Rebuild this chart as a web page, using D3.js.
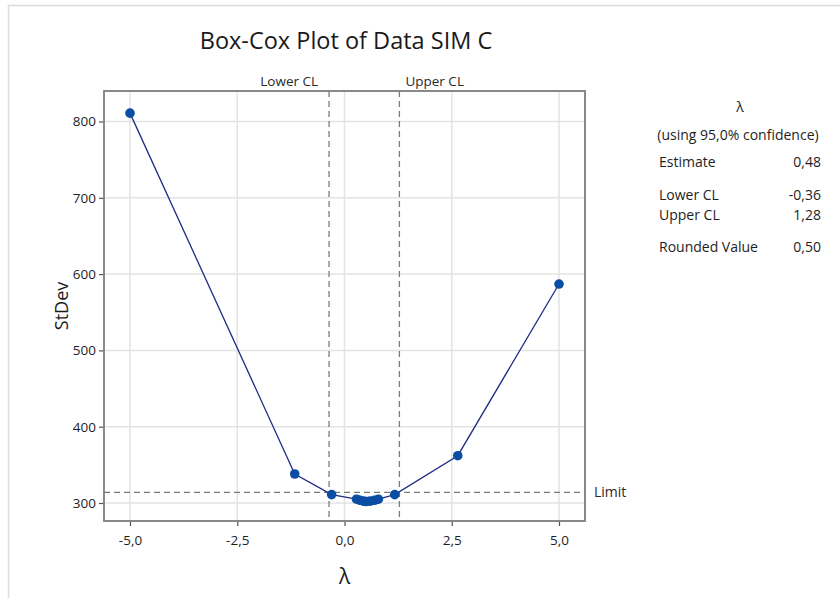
<!DOCTYPE html>
<html>
<head>
<meta charset="utf-8">
<script src="https://cdn.jsdelivr.net/npm/d3@7"></script>
<style>
  body { margin: 0; background: #fff; }
  svg { display: block; font-family: "Open Sans", "Noto Sans", sans-serif; }
</style>
</head>
<body>
<div id="chart"></div>
<script>
const lambdas = [-5, -1.16, -0.3, 0.28, 0.36, 0.44, 0.48, 0.52, 0.6, 0.7, 0.79, 1.17, 2.64, 5]
const stdevs = [811, 338, 311, 305, 303.5, 302.5, 302, 302, 302.5, 303.5, 305, 311, 362, 587]
const xTicks = [-5, -2.5, 0, 2.5, 5]
const yTicks = [300, 400, 500, 600, 700, 800]
const lowerCL = -0.36
const upperCL = 1.28
const limit = 314
const statLabels = ["Estimate", "Lower CL", "Upper CL", "Rounded Value"]
const statValues = [0.48, -0.36, 1.28, 0.50]

const locale = d3.formatLocale({decimal: ",", thousands: ".", grouping: [3], currency: ["", ""], minus: "-"})
const fmt1 = locale.format(".1f")
const fmt2 = locale.format(".2f")

drawBoxCox("#chart")

function drawBoxCox(id){
    const canvas = {width: 840, height: 598, left: 104, right: 585, top: 91, bottom: 521}
    const svg = d3.select(id).append("svg").attr("width", canvas.width).attr("height", canvas.height)

    // outer frame of the screenshot
    svg.append("rect").attr("x", 8.5).attr("y", 5.5).attr("width", 840).attr("height", 600)
      .attr("fill", "none").attr("stroke", "#dcdcdc").attr("stroke-width", 1.5)

    const x = d3.scaleLinear().domain([-5.606, 5.606]).range([canvas.left, canvas.right])
    const y = d3.scaleLinear().domain([276.4, 840]).range([canvas.bottom, canvas.top])

    addGrid(svg, x, y, canvas)
    addRefLines(svg, x, y, canvas)
    addSeries(svg, x, y)
    addAxes(svg, x, y, canvas)
    addTexts(svg, x, y, canvas)
    addStats(svg)
}

function addGrid(svg, x, y, canvas){
    svg.append("g").selectAll("line").data(xTicks).enter().append("line")
      .attr("x1", d => x(d)).attr("x2", d => x(d)).attr("y1", canvas.top).attr("y2", canvas.bottom)
      .attr("stroke", "#e3e3e3").attr("stroke-width", 1.5)
    svg.append("g").selectAll("line").data(yTicks).enter().append("line")
      .attr("x1", canvas.left).attr("x2", canvas.right).attr("y1", d => y(d)).attr("y2", d => y(d))
      .attr("stroke", "#e3e3e3").attr("stroke-width", 1.5)
}

function addRefLines(svg, x, y, canvas){
    const dash = "6,4"
    svg.selectAll(".cl").data([lowerCL, upperCL]).enter().append("line").attr("class", "cl")
      .attr("x1", d => x(d)).attr("x2", d => x(d)).attr("y1", canvas.top).attr("y2", canvas.bottom)
      .attr("stroke", "#7a7a7a").attr("stroke-width", 1.3).attr("stroke-dasharray", dash)
    svg.append("line").attr("x1", canvas.left).attr("x2", canvas.right).attr("y1", y(limit)).attr("y2", y(limit))
      .attr("stroke", "#7a7a7a").attr("stroke-width", 1.3).attr("stroke-dasharray", dash)
}

function addSeries(svg, x, y){
    const pts = lambdas.map((l, i) => ({l: l, s: stdevs[i]}))
    const line = d3.line().x(d => x(d.l)).y(d => y(d.s))
    svg.append("path").datum(pts).attr("d", line).attr("fill", "none")
      .attr("stroke", "#1f2d84").attr("stroke-width", 1.3)
    svg.selectAll(".pt").data(pts).enter().append("circle").attr("class", "pt")
      .attr("cx", d => x(d.l)).attr("cy", d => y(d.s)).attr("r", 4.8).attr("fill", "#0a4da2")
}

function addAxes(svg, x, y, canvas){
    const xAxis = svg.append("g").attr("transform", `translate(0,${canvas.bottom})`)
      .call(d3.axisBottom(x).tickValues(xTicks).tickFormat(fmt1).tickSize(5).tickPadding(9))
    const yAxis = svg.append("g").attr("transform", `translate(${canvas.left},0)`)
      .call(d3.axisLeft(y).tickValues(yTicks).tickSize(5).tickPadding(3))
    ;[xAxis, yAxis].forEach(a => {
        a.select(".domain").remove()
        a.selectAll(".tick line").attr("stroke", "#555").attr("stroke-width", 1.2)
        a.selectAll(".tick text").attr("font-size", "13.5px").attr("fill", "#1e1e1e")
          .attr("font-family", "\"Open Sans\", \"Noto Sans\", sans-serif")
    })
    svg.append("rect").attr("x", canvas.left).attr("y", canvas.top)
      .attr("width", canvas.right - canvas.left).attr("height", canvas.bottom - canvas.top)
      .attr("fill", "none").attr("stroke", "#7d7d7d").attr("stroke-width", 1.8)
}

function addTexts(svg, x, y, canvas){
    svg.append("text").attr("x", 346).attr("y", 49).attr("text-anchor", "middle")
      .attr("font-size", "23.5px").attr("fill", "#1a1a1a").text("Box-Cox Plot of Data SIM C")
    svg.append("text").attr("x", x(lowerCL) - 11).attr("y", 86).attr("text-anchor", "end")
      .attr("font-size", "13.5px").attr("fill", "#2a2a2a").text("Lower CL")
    svg.append("text").attr("x", x(upperCL) + 6).attr("y", 86).attr("text-anchor", "start")
      .attr("font-size", "13.5px").attr("fill", "#2a2a2a").text("Upper CL")
    svg.append("text").attr("x", canvas.right + 9).attr("y", y(limit) + 5)
      .attr("font-size", "14px").attr("fill", "#2a2a2a").text("Limit")
    svg.append("text").attr("transform", `translate(68,${(canvas.top + canvas.bottom) / 2}) rotate(-90)`)
      .attr("text-anchor", "middle").attr("font-size", "18px").attr("fill", "#1a1a1a").text("StDev")
    svg.append("text").attr("x", x(0)).attr("y", 584).attr("text-anchor", "middle")
      .attr("font-size", "21px").attr("fill", "#1a1a1a").text("λ")
}

function addStats(svg){
    const g = svg.append("g").attr("font-size", "14px").attr("fill", "#1e1e1e")
    g.append("text").attr("x", 740).attr("y", 112).attr("text-anchor", "middle").text("λ")
    g.append("text").attr("x", 738).attr("y", 140).attr("text-anchor", "middle").text("(using 95,0% confidence)")
    const rows = [167, 200, 220, 252]
    g.selectAll(".lab").data(statLabels).enter().append("text").attr("class", "lab")
      .attr("x", 659).attr("y", (d, i) => rows[i]).text(d => d)
    g.selectAll(".val").data(statValues).enter().append("text").attr("class", "val")
      .attr("x", 821).attr("y", (d, i) => rows[i]).attr("text-anchor", "end").text(d => fmt2(d))
}
</script>
</body>
</html>
